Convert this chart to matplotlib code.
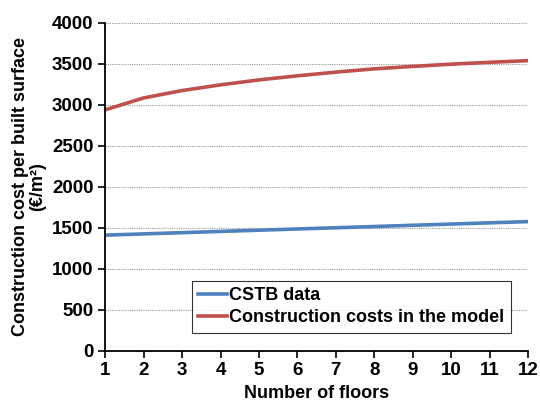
import matplotlib.pyplot as plt

plt.rcParams["font.family"] = ["Liberation Sans", "DejaVu Sans"]
plt.rcParams["font.weight"] = "bold"

# Number of floors
floors = [1, 2, 3, 4, 5, 6, 7, 8, 9, 10, 11, 12]
# Construction cost per built surface (EUR/m2)
cstb_data = [1410, 1425, 1440, 1455, 1470, 1485, 1500, 1515, 1530, 1545, 1560, 1575]
model_costs = [2940, 3085, 3175, 3245, 3305, 3355, 3400, 3440, 3470, 3497, 3520, 3540]

fig, ax = plt.subplots(figsize=(5.4, 4.03), dpi=100)
fig.subplots_adjust(left=0.195, right=0.978, top=0.943, bottom=0.13)

ax.plot(floors, cstb_data, color="#4F81BD", linewidth=2.6, label="CSTB data")
ax.plot(floors, model_costs, color="#C0504D", linewidth=2.6,
        label="Construction costs in the model")

ax.set_xlim(1, 12)
ax.set_ylim(0, 4000)
ax.set_xticks(floors)
ax.set_yticks(range(0, 4001, 500))
ax.grid(axis="y", linestyle=(0, (1, 1)), color="#999999", linewidth=0.8)
ax.set_axisbelow(True)

for side in ["top", "right"]:
    ax.spines[side].set_visible(False)
for side in ["left", "bottom"]:
    ax.spines[side].set_linewidth(1.3)
ax.tick_params(direction="out", length=5, width=1.2, labelsize=13.5)
for lbl in ax.get_xticklabels() + ax.get_yticklabels():
    lbl.set_fontweight("bold")

ax.set_xlabel("Number of floors", fontsize=13, fontweight="bold", labelpad=4)
ax.set_ylabel("Construction cost per built surface\n(€/m²)", fontsize=13,
              fontweight="bold", linespacing=1.0, labelpad=4)

leg = ax.legend(loc="lower left", bbox_to_anchor=(0.184, 0.027), fontsize=13,
                frameon=True, fancybox=False, handlelength=1.6,
                handletextpad=0.1, borderpad=0.35, labelspacing=0.3)
leg.get_frame().set_edgecolor("black")
leg.get_frame().set_linewidth(0.8)
for t in leg.get_texts():
    t.set_fontweight("bold")

fig.savefig("out.png", dpi=100)
